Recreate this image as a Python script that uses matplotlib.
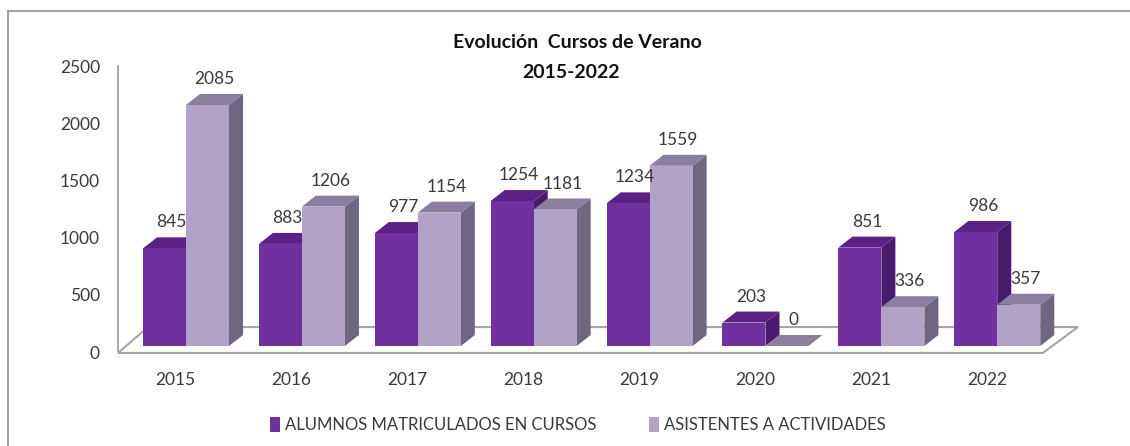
import matplotlib.pyplot as plt
from matplotlib.patches import Polygon, Patch
from matplotlib.lines import Line2D

# data
years = ['2015', '2016', '2017', '2018', '2019', '2020', '2021', '2022']
alumnos = [845, 883, 977, 1254, 1234, 203, 851, 986]
asistentes = [2085, 1206, 1154, 1181, 1559, 0, 336, 357]
series_names = ['ALUMNOS MATRICULADOS EN CURSOS', 'ASISTENTES A ACTIVIDADES']
y_ticks = [0, 500, 1000, 1500, 2000, 2500]

# colours: front, top, side
purple = ('#7030a0', '#5b2186', '#4a1b6c')
lilac = ('#b3a2c7', '#8b7f9f', '#6f6681')

plt.rcParams['font.family'] = ['Lato', 'DejaVu Sans']
txt = '#3a3a3a'

W, H = 1130, 446
fig = plt.figure(figsize=(W / 100, H / 100), dpi=100)


def box(l, t, r, b):
    return [l / W, 1 - b / H, (r - l) / W, (b - t) / H]


# outer frame (top and left edges only visible)
fig.add_artist(Line2D([8 / W, 1], [1 - 11 / H] * 2, color='#a0a0a0', lw=1.5))
fig.add_artist(Line2D([8 / W] * 2, [0, 1 - 11 / H], color='#a0a0a0', lw=1.5))

# back wall axes: carries the value axis
wall = fig.add_axes(box(118, 40, 1080, 370))
wall.set_xlim(-0.587, 7.714)
wall.set_ylim(-157.3, 2727.3)
wall.patch.set_visible(False)
for s in ['top', 'right', 'bottom']:
    wall.spines[s].set_visible(False)
wall.spines['left'].set_bounds(0, 2500)
wall.spines['left'].set_color('#9a9a9a')
wall.spines['left'].set_linewidth(1.2)
wall.set_yticks(y_ticks)
wall.tick_params(axis='y', length=0, pad=13, labelsize=12.5, labelcolor=txt)
wall.set_xticks([])

# bar axes
ax = fig.add_axes(box(118, 40, 1080, 370))
ax.set_xlim(-0.587, 7.714)
ax.set_ylim(-207.6, 2647)
ax.axis('off')

# floor
floor = Polygon([(-0.587, -60), (7.394, -60), (7.696, 164), (-0.328, 164)],
                closed=True, facecolor='white', edgecolor='#a6a6a6', lw=1.5, zorder=1)
ax.add_patch(floor)

bw = 0.371   # bar width (category units)
dx = 0.121   # depth offset x
dy = 95      # depth offset y (value units)

for i in range(len(years)):
    for j, (vals, cols) in enumerate([(alumnos, purple), (asistentes, lilac)]):
        v = vals[i]
        x0 = i - bw + j * bw
        side = Polygon([(x0 + bw, 0), (x0 + bw + dx, dy), (x0 + bw + dx, v + dy), (x0 + bw, v)],
                       closed=True, facecolor=cols[2], edgecolor='none', zorder=2)
        top = Polygon([(x0, v), (x0 + dx, v + dy), (x0 + bw + dx, v + dy), (x0 + bw, v)],
                      closed=True, facecolor=cols[1], edgecolor='none', zorder=2)
        ax.add_patch(side)
        ax.add_patch(top)
        ax.bar(x0, v, width=bw, align='edge', color=cols[0], edgecolor='none', zorder=2)
        ax.annotate(str(v), (x0 + bw / 2 + dx / 2, v + dy), xytext=(0, 5),
                    textcoords='offset points', ha='center', va='bottom',
                    fontsize=12.5, color=txt, zorder=5)

# category labels
for i, yr in enumerate(years):
    ax.text(i - 0.09, -294, yr, ha='center', va='center', fontsize=12.5, color=txt)

# title
fig.text(577 / W, 1 - 43 / H, 'Evolución  Cursos de Verano', ha='center', va='center',
         fontsize=14, fontweight='bold', color='#111111')
fig.text(571 / W, 1 - 72 / H, '2015-2022', ha='center', va='center',
         fontsize=14, fontweight='bold', color='#111111')

# legend
handles = [Patch(facecolor=purple[0]), Patch(facecolor=lilac[0])]
fig.legend(handles, series_names, loc='center', bbox_to_anchor=(578 / W, 1 - 425 / H),
           ncol=2, frameon=False, handlelength=0.6, handleheight=1.0, handletextpad=0.3,
           columnspacing=3.2, fontsize=12, labelcolor=txt)

fig.savefig('out.png', dpi=100)
